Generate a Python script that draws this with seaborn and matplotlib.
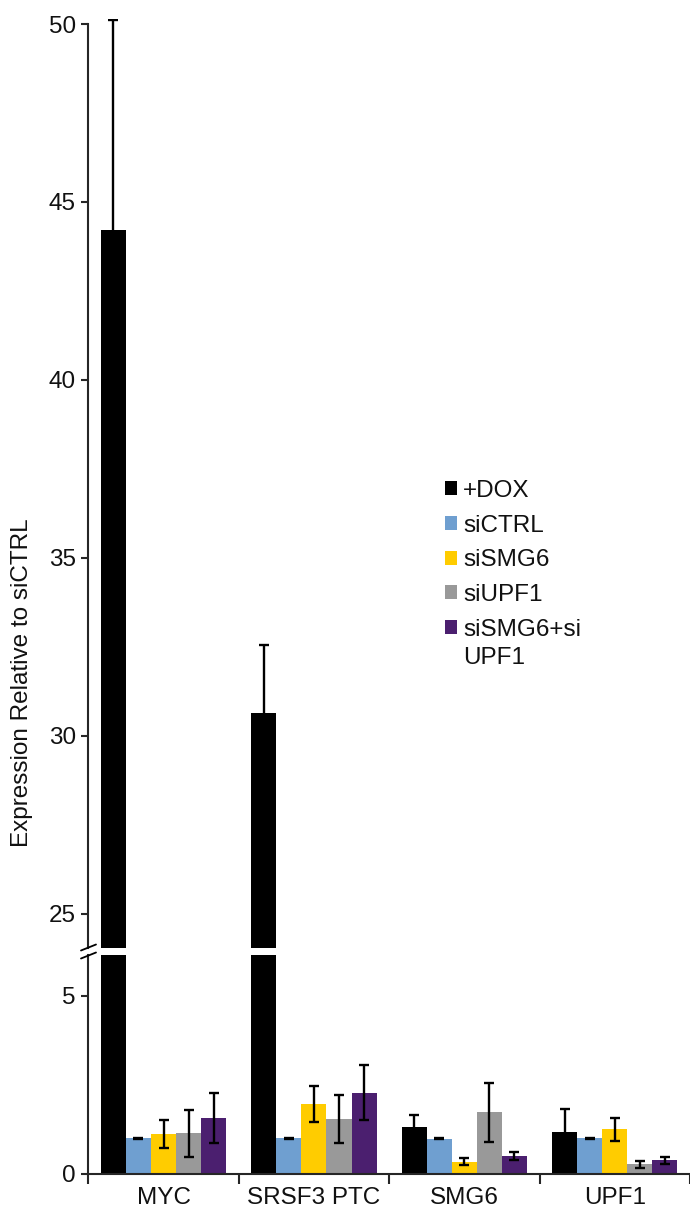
import numpy as np
import pandas as pd
import matplotlib.pyplot as plt
import seaborn as sns
from matplotlib.lines import Line2D

genes = ['MYC', 'SRSF3 PTC', 'SMG6', 'UPF1']
conditions = ['+DOX', 'siCTRL', 'siSMG6', 'siUPF1', 'siSMG6+si\nUPF1']
colors = ['#000000', '#6f9fd0', '#ffcc00', '#999999', '#4b1f6f']

dox = [44.2, 30.65, 1.33, 1.19]
dox_err = [5.9, 1.9, 0.33, 0.63]
sictrl = [1.0, 1.0, 0.99, 1.0]
sictrl_err = [0.02, 0.02, 0.02, 0.02]
sismg6 = [1.12, 1.97, 0.34, 1.26]
sismg6_err = [0.4, 0.5, 0.1, 0.32]
siupf1 = [1.14, 1.54, 1.73, 0.27]
siupf1_err = [0.67, 0.67, 0.83, 0.09]
sidouble = [1.58, 2.28, 0.5, 0.39]
sidouble_err = [0.7, 0.77, 0.11, 0.1]

values = [dox, sictrl, sismg6, siupf1, sidouble]
errors = [dox_err, sictrl_err, sismg6_err, siupf1_err, sidouble_err]

df = pd.DataFrame({
    'gene': genes * len(conditions),
    'cond': np.repeat(conditions, len(genes)),
    'value': np.concatenate(values),
})

sns.set_style('ticks')
plt.rcParams['font.family'] = ['Liberation Sans', 'DejaVu Sans']
FS = 17.5
plt.rcParams['font.size'] = FS

fig = plt.figure(figsize=(6.9, 12.09), dpi=100)
W, H = 690, 1209
left, right = 88.3 / W, 1.0
ax_top = fig.add_axes([left, 261 / H, right - left, (948 - 18.7) / H])
ax_bot = fig.add_axes([left, 35 / H, right - left, (1174 - 955) / H])

for ax in (ax_top, ax_bot):
    sns.barplot(data=df, x='gene', y='value', hue='cond', palette=colors,
                saturation=1, width=0.833, errorbar=None, linewidth=0, ax=ax,
                legend=(ax is ax_top))
    for cont, vals, errs in zip(ax.containers, values, errors):
        xs = [p.get_x() + p.get_width() / 2 for p in cont]
        ax.errorbar(xs, vals, yerr=errs, fmt='none', ecolor='black',
                    elinewidth=1.7, capsize=3.5, capthick=1.7, zorder=5)
    ax.set_xlim(-0.5, 3.5)
    ax.set_xlabel('')
    ax.set_ylabel('')
    for s in ('top', 'right'):
        ax.spines[s].set_visible(False)
    ax.spines['left'].set_linewidth(1.5)
    ax.tick_params(axis='y', direction='out', length=5, width=1.5,
                   labelsize=FS, pad=4, labelcolor='#111111')

# top segment
ax_top.set_ylim(24.04, 50.15)
ax_top.set_yticks([25, 30, 35, 40, 45, 50])
ax_top.spines['left'].set_bounds(24.04, 50)
ax_top.spines['bottom'].set_visible(False)
ax_top.set_xticks([])

# bottom segment
ax_bot.set_ylim(0, 6.15)
ax_bot.set_yticks([0, 5])
ax_bot.spines['bottom'].set_linewidth(1.5)
ax_bot.set_xticks([-0.5, 0.5, 1.5, 2.5, 3.5])
ax_bot.set_xticklabels([])
ax_bot.set_xticks(range(len(genes)), minor=True)
ax_bot.set_xticklabels(genes, minor=True)
ax_bot.tick_params(axis='x', which='major', direction='out', length=7, width=1.5)
ax_bot.tick_params(axis='x', which='minor', length=0, labelsize=FS, pad=9,
                   labelcolor='#111111')

# break marks
for yc in (947.5, 955.5):
    y0 = 1 - (yc + 3) / H
    y1 = 1 - (yc - 3) / H
    fig.add_artist(Line2D([81 / W, 96 / W], [y0, y1], color='black', lw=1.3))

# legend
handles, labels = ax_top.get_legend_handles_labels()
ax_top.get_legend().remove()
leg = fig.legend(handles, labels, loc='upper left',
                 bbox_to_anchor=(445 / W, 1 - 480 / H),
                 frameon=False, fontsize=FS, handlelength=0.5, handleheight=0.5,
                 handletextpad=0.25, labelspacing=0.52, borderpad=0,
                 borderaxespad=0, labelcolor='#111111')
leg.texts[-1].set_linespacing(1.35)
# put the last swatch next to the first line of its two-line label
last = leg.legend_handles[-1]
last.set_y(last.get_y() + 0.66 * FS)

fig.text(22 / W, 1 - 683 / H, 'Expression Relative to siCTRL', rotation=90,
         ha='center', va='center', fontsize=FS, color='#111111')

fig.savefig('out.png', dpi=100)
